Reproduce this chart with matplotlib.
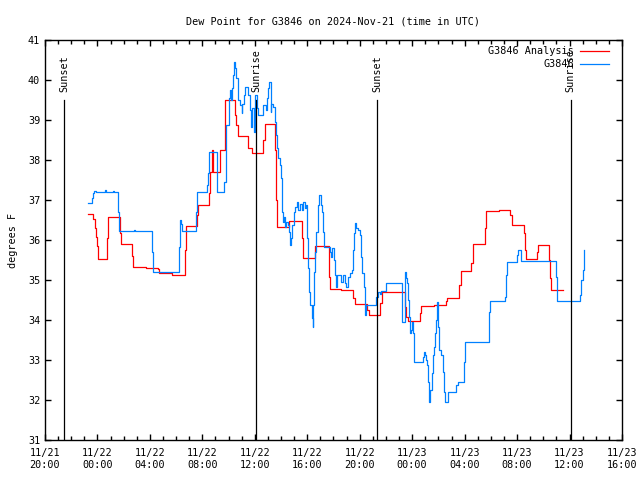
import datetime as dt
import matplotlib
matplotlib.use("Agg")
import matplotlib.pyplot as plt
import matplotlib.dates as mdates

# hours after 2024-11-21 20:00 UTC
start = dt.datetime(2024, 11, 21, 20, 0)

anal_hours = [3.28, 3.68, 3.79, 3.89, 3.98, 4.06, 4.70, 4.78, 5.71, 5.77,
              6.65, 6.73, 7.70, 8.63, 8.71, 9.65, 10.67, 10.72, 11.60, 11.68,
              12.52, 12.62, 12.72, 12.82, 13.33, 13.71, 14.48, 14.58, 14.73, 15.47,
              15.75, 16.63, 16.74, 17.52, 17.58, 17.70, 18.61, 19.60, 19.68, 20.57,
              21.64, 21.77, 22.61, 23.49, 23.64, 24.59, 24.71, 25.55, 25.68, 27.43,
              27.54, 27.71, 28.59, 28.70, 29.64, 30.60, 30.68, 31.57, 31.70, 32.51,
              32.63, 33.52, 33.65, 34.61, 35.43, 35.63, 36.50, 36.59, 36.70, 37.51,
              37.62, 38.42, 38.50, 38.61, 39.49]
anal_vals = [36.65, 36.52, 36.29, 36.07, 35.85, 35.52, 36.04, 36.57, 36.18, 35.90,
             35.60, 35.32, 35.29, 35.27, 35.17, 35.12, 35.75, 36.36, 36.63, 36.88,
             37.17, 37.71, 38.25, 37.71, 38.25, 39.50, 39.13, 38.88, 38.60, 38.30,
             38.17, 38.50, 38.89, 38.25, 37.00, 36.33, 36.47, 36.04, 35.54, 35.86,
             35.08, 34.78, 34.75, 34.54, 34.39, 34.25, 34.13, 34.42, 34.69, 34.33,
             34.08, 33.98, 34.17, 34.35, 34.38, 34.48, 34.54, 34.88, 35.23, 35.42,
             35.89, 36.29, 36.72, 36.75, 36.63, 36.38, 36.17, 35.75, 35.52, 35.71,
             35.88, 35.50, 35.04, 34.75, 34.75]

obs_hours = [3.28, 3.60, 3.68, 3.77, 3.89, 4.57, 4.65, 5.18, 5.26, 5.58,
             5.64, 6.78, 6.86, 8.18, 8.25, 10.23, 10.29, 10.34, 10.42, 11.50,
             11.56, 12.32, 12.40, 12.50, 13.08, 13.66, 13.77, 13.84, 14.02, 14.10,
             14.17, 14.27, 14.35, 14.42, 14.50, 14.58, 14.68, 14.73, 14.86, 14.99,
             15.06, 15.14, 15.24, 15.49, 15.62, 15.70, 15.79, 15.92, 16.00, 16.13,
             16.25, 16.63, 16.84, 16.94, 17.02, 17.09, 17.20, 17.27, 17.40, 17.52,
             17.60, 17.70, 17.80, 17.90, 18.03, 18.08, 18.16, 18.23, 18.29, 18.41,
             18.54, 18.61, 18.72, 18.77, 18.87, 18.97, 19.07, 19.18, 19.28, 19.43,
             19.56, 19.68, 19.81, 19.94, 19.98, 20.06, 20.14, 20.24, 20.34, 20.40,
             20.44, 20.52, 20.62, 20.70, 20.82, 20.90, 21.01, 21.10, 21.20, 21.31,
             21.71, 21.79, 21.89, 22.02, 22.12, 22.22, 22.30, 22.61, 22.73, 22.86,
             22.99, 23.11, 23.24, 23.41, 23.49, 23.57, 23.64, 23.75, 23.87, 24.00,
             24.10, 24.21, 24.30, 24.40, 24.43, 24.51, 25.27, 25.40, 25.52, 25.65,
             26.03, 27.25, 27.45, 27.56, 27.63, 27.71, 27.76, 27.81, 27.94, 28.01,
             28.06, 28.14, 28.83, 28.90, 29.01, 29.08, 29.16, 29.23, 29.28, 29.36,
             29.54, 29.61, 29.69, 29.74, 29.81, 29.89, 30.00, 30.04, 30.23, 30.38,
             30.45, 30.53, 30.73, 31.37, 31.49, 31.95, 32.00, 33.83, 33.88, 33.96,
             35.07, 35.12, 35.20, 35.98, 36.06, 36.27, 38.93, 39.06, 40.76, 40.89,
             41.01, 41.09, 41.14]
obs_vals = [36.92, 37.04, 37.18, 37.23, 37.21, 37.24, 37.21, 37.23, 37.21, 36.71,
            36.23, 36.25, 36.23, 35.71, 35.19, 35.83, 36.50, 36.40, 36.23, 36.71,
            37.21, 37.38, 37.67, 38.21, 37.21, 37.46, 38.13, 38.88, 39.54, 39.75,
            39.50, 39.79, 40.13, 40.46, 40.29, 40.04, 39.79, 39.50, 39.38, 39.17,
            39.40, 39.63, 39.83, 39.63, 39.25, 38.83, 39.30, 38.71, 39.63, 39.29,
            39.13, 39.38, 39.25, 39.54, 39.79, 39.96, 39.21, 39.40, 39.33, 38.96,
            38.63, 38.29, 38.04, 37.88, 37.54, 36.71, 36.46, 36.58, 36.33, 36.46,
            36.38, 36.21, 35.88, 36.04, 36.38, 36.71, 36.83, 36.96, 36.75, 36.90,
            36.75, 36.96, 36.80, 36.88, 36.04, 35.29, 34.71, 34.38, 34.04, 33.83,
            34.38, 35.21, 35.71, 36.21, 36.88, 37.13, 36.88, 36.71, 36.21, 35.83,
            35.70, 35.58, 35.79, 35.50, 35.13, 34.83, 35.13, 34.96, 35.13, 34.92,
            34.83, 35.08, 35.17, 35.25, 35.75, 36.17, 36.42, 36.29, 36.25, 36.13,
            35.58, 35.17, 34.83, 34.38, 34.13, 34.38, 34.58, 34.71, 34.65, 34.73,
            34.93, 33.96, 35.21, 35.04, 34.92, 34.50, 34.08, 33.67, 33.75, 33.96,
            33.67, 32.96, 33.08, 33.21, 33.13, 33.00, 32.88, 32.46, 31.96, 32.25,
            32.67, 33.13, 33.33, 33.67, 34.00, 34.46, 33.83, 33.25, 33.13, 32.71,
            32.21, 31.96, 32.21, 32.38, 32.46, 32.96, 33.46, 33.92, 34.21, 34.48,
            34.58, 35.13, 35.46, 35.63, 35.75, 35.48, 35.08, 34.48, 34.63, 35.00,
            35.25, 35.50, 35.75]

sun_labels = ["Sunset", "Sunrise", "Sunset", "Sunrise"]
sun_times = [dt.datetime(2024, 11, 21, 21, 27), dt.datetime(2024, 11, 22, 12, 7),
             dt.datetime(2024, 11, 22, 21, 21), dt.datetime(2024, 11, 23, 12, 6)]

to_time = lambda hs: [start + dt.timedelta(hours=h) for h in hs]

plt.rcParams['font.family'] = 'DejaVu Sans Mono'
plt.rcParams['font.size'] = 7

fig = plt.figure(figsize=(6.4, 4.8), dpi=100)
ax = fig.add_axes([45/640, 40/480, 577/640, 400/480])

ax.plot(to_time(anal_hours), anal_vals, drawstyle='steps-post', color='#ff0000',
        lw=0.9, label='G3846 Analysis')
ax.plot(to_time(obs_hours), obs_vals, drawstyle='steps-post', color='#0080ff',
        lw=0.9, label='G3846')

for lab, t in zip(sun_labels, sun_times):
    ax.plot([t, t], [31, 39.5], color='black', lw=0.9)
    ax.text(t, 39.7, lab, rotation=90, ha='center', va='bottom', fontsize=7.3)

ax.set_xlim(start, start + dt.timedelta(hours=44))
ax.set_ylim(31, 41)
ax.set_yticks(range(31, 42))
ax.xaxis.set_major_locator(mdates.HourLocator(byhour=[0, 4, 8, 12, 16, 20]))
ax.xaxis.set_minor_locator(mdates.HourLocator())
ax.xaxis.set_major_formatter(mdates.DateFormatter('%m/%d\n%H:%M'))
ax.tick_params(which='both', direction='in', top=True, right=True, length=4,
               width=1, labelsize=7.3)
ax.tick_params(which='minor', length=3)
ax.tick_params(axis='x', pad=6)
for s in ax.spines.values():
    s.set_linewidth(1.0)

ax.set_ylabel('degrees F', fontsize=7.3)
ax.yaxis.set_label_coords(-0.047, 0.5)
ax.set_title('Dew Point for G3846 on 2024-Nov-21 (time in UTC)', fontsize=7.3, pad=11)

ax.legend(loc='upper right', bbox_to_anchor=(0.992, 1.005), frameon=False,
          markerfirst=False, handlelength=2.9, fontsize=7.3, borderpad=0.3,
          labelspacing=0.3, handletextpad=0.6)

fig.savefig('out.png', dpi=100)
